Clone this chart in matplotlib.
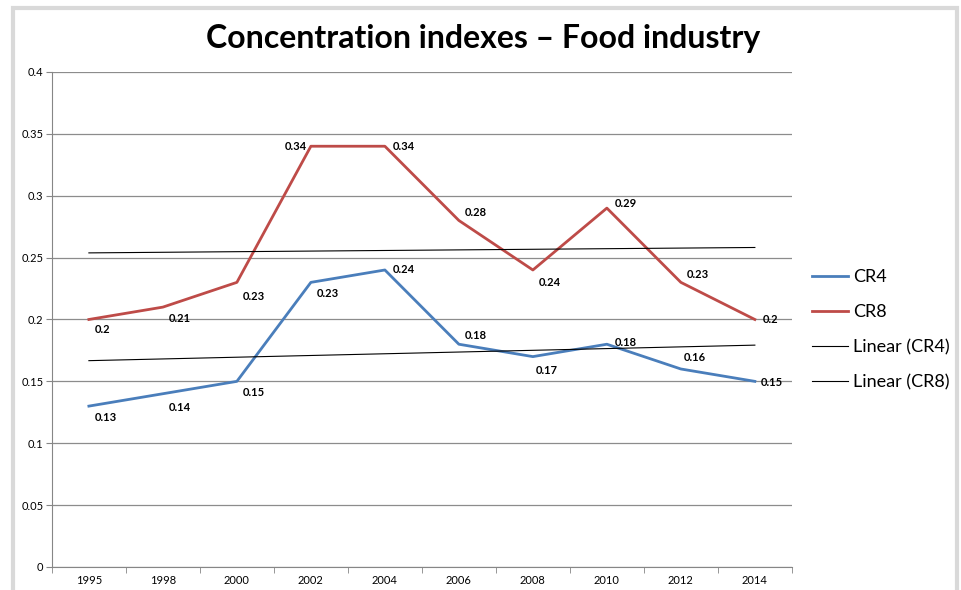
import numpy as np
import matplotlib.pyplot as plt
from matplotlib.patches import Rectangle

plt.rcParams['font.family'] = ['Lato', 'DejaVu Sans']

years = ['1995', '1998', '2000', '2002', '2004', '2006', '2008', '2010', '2012', '2014']
cr4 = [0.13, 0.14, 0.15, 0.23, 0.24, 0.18, 0.17, 0.18, 0.16, 0.15]
cr8 = [0.2, 0.21, 0.23, 0.34, 0.34, 0.28, 0.24, 0.29, 0.23, 0.2]

# label offsets (points) for each data label
off4 = [(4, -8), (4, -10), (4, -8), (4, -8), (6, 0), (4, 6), (2, -10), (6, 1), (2, 8), (4, -1)]
off8 = [(4, -7), (4, -8), (4, -10), (-19, 0), (6, 0), (4, 6), (4, -9), (6, 3), (4, 6), (6, 0)]

blue = '#4A7EBB'
red = '#BE4B48'

fig = plt.figure(figsize=(9.61, 5.9), dpi=100)
fig.patches.append(Rectangle((0.014, -0.05), 0.982, 1.036, transform=fig.transFigure,
                             fill=False, edgecolor='#d9d9d9', linewidth=3))
ax = fig.add_axes([0.054, 0.039, 0.770, 0.839])

x = np.arange(len(years))
ax.plot(x, cr4, color=blue, lw=2, label='CR4')
ax.plot(x, cr8, color=red, lw=2, label='CR8')

# linear trend lines
for vals, name in [(cr4, 'Linear (CR4)'), (cr8, 'Linear (CR8)')]:
    k, b = np.polyfit(x, vals, 1)
    ax.plot(x, k * x + b, color='black', lw=0.8, label=name)

for xi, v, o in zip(x, cr4, off4):
    ax.annotate(f'{v:g}', (xi, v), xytext=o, textcoords='offset points',
                fontsize=8, fontweight='bold', va='center', ha='left')
for xi, v, o in zip(x, cr8, off8):
    ax.annotate(f'{v:g}', (xi, v), xytext=o, textcoords='offset points',
                fontsize=8, fontweight='bold', va='center', ha='left')

ax.set_xlim(-0.5, len(years) - 0.5)
ax.set_ylim(0, 0.4)
ax.set_yticks(np.arange(0, 0.41, 0.05))
ax.set_yticklabels(['0', '0.05', '0.1', '0.15', '0.2', '0.25', '0.3', '0.35', '0.4'])
ax.set_xticks(x)
ax.set_xticklabels(years)
ax.set_xticks(np.arange(-0.5, len(years), 1), minor=True)
ax.tick_params(axis='x', which='major', length=0, labelsize=8, pad=6)
ax.tick_params(axis='x', which='minor', length=4, color='#868686')
ax.tick_params(axis='y', length=4, color='#868686', labelsize=8, pad=2)
ax.grid(axis='y', color='#8c8c8c', lw=0.9)
ax.set_axisbelow(True)
for s in ['top', 'right']:
    ax.spines[s].set_visible(False)
for s in ['left', 'bottom']:
    ax.spines[s].set_color('#868686')

fig.text(0.503, 0.935, 'Concentration indexes – Food industry', ha='center', va='center',
         fontsize=23, fontweight='bold')

ax.legend(loc='center left', bbox_to_anchor=(1.005, 0.479), frameon=False, fontsize=13,
          handlelength=2.0, handletextpad=0.3, labelspacing=1.05)

fig.savefig('out.png', dpi=100)
